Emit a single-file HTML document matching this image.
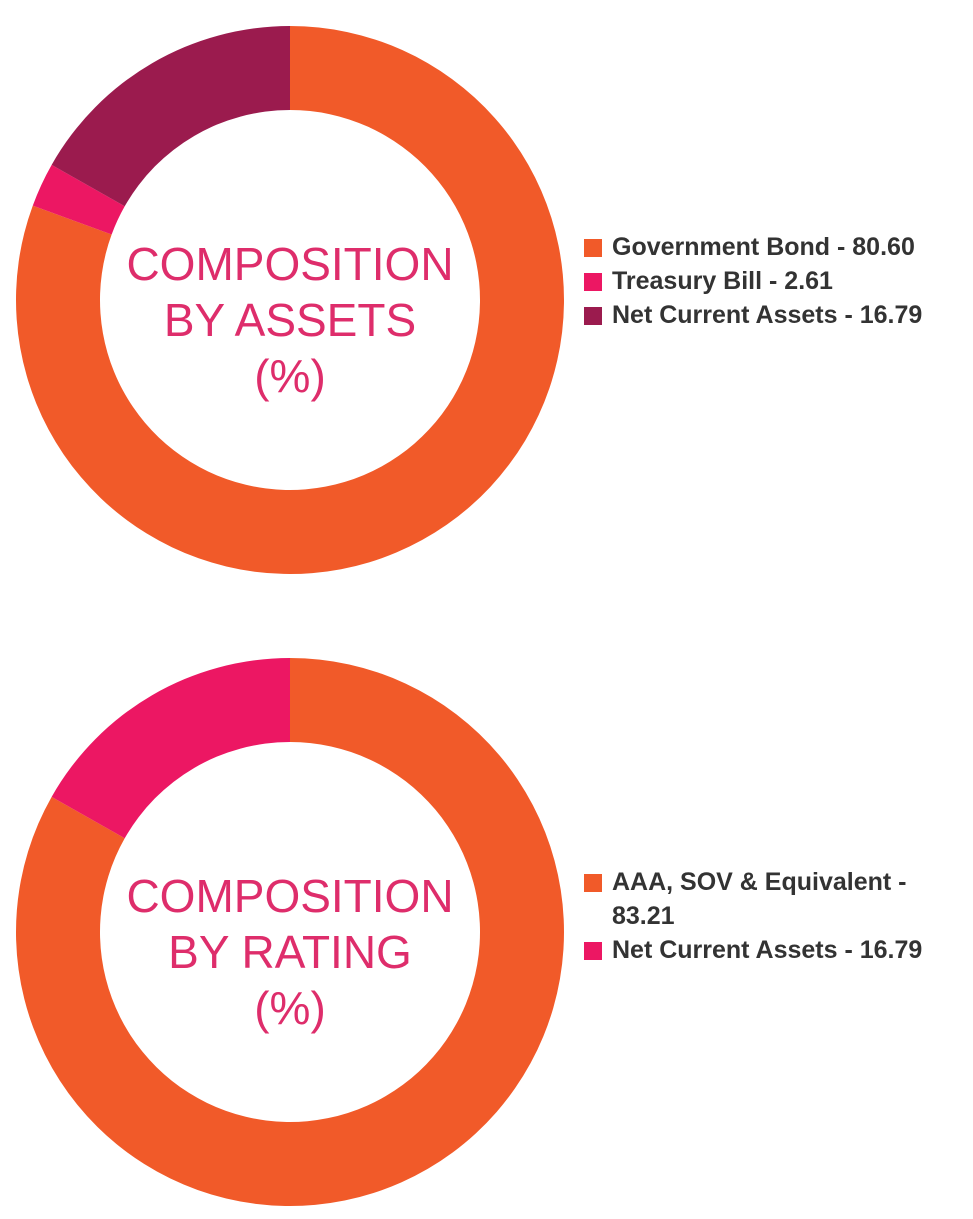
<!DOCTYPE html>
<html><head><meta charset="utf-8"><style>
body{margin:0;background:#fff;width:973px;height:1219px;overflow:hidden;font-family:"Liberation Sans",sans-serif}
.leg{position:absolute;left:584px;font-weight:bold;font-size:25px;color:#333;line-height:34px}
.leg div{position:relative;padding-left:28px}
.leg span.sw{position:absolute;left:0;top:9px;width:18px;height:18px}
</style></head><body>
<svg id="chart" width="973" height="1219" style="position:absolute;left:0;top:0"></svg>
<div class="leg" style="top:230px">
<div><span class="sw" style="background:#F15A29"></span>Government Bond - 80.60</div>
<div><span class="sw" style="background:#EC1763"></span>Treasury Bill - 2.61</div>
<div><span class="sw" style="background:#9B1B4E"></span>Net Current Assets - 16.79</div>
</div>
<div class="leg" style="top:865px">
<div><span class="sw" style="background:#F15A29"></span>AAA, SOV &amp; Equivalent -<br>83.21</div>
<div><span class="sw" style="background:#EC1763"></span>Net Current Assets - 16.79</div>
</div>
<script>
const assetLabels=["Government Bond","Treasury Bill","Net Current Assets"];
const assetValues=[80.60,2.61,16.79];
const ratingLabels=["AAA, SOV & Equivalent","Net Current Assets"];
const ratingValues=[83.21,16.79];
const assetColors=["#F15A29","#EC1763","#9B1B4E"];
const ratingColors=["#F15A29","#EC1763"];
const svg=document.getElementById('chart');
const NS="http://www.w3.org/2000/svg";
function donut(cx,cy,R,r,vals,cols,labels,title,name){
  const tot=vals.reduce((a,b)=>a+b,0);let a0=0;
  vals.forEach((v,i)=>{
    const a1=a0+v/tot*2*Math.PI;
    const p=(ang,rad)=>[cx+rad*Math.sin(ang),cy-rad*Math.cos(ang)];
    const [x0,y0]=p(a0,R),[x1,y1]=p(a1,R),[x2,y2]=p(a1,r),[x3,y3]=p(a0,r);
    const lg=(a1-a0)>Math.PI?1:0;
    const path=document.createElementNS(NS,'path');
    path.setAttribute('d',`M${x0},${y0}A${R},${R} 0 ${lg} 1 ${x1},${y1}L${x2},${y2}A${r},${r} 0 ${lg} 0 ${x3},${y3}Z`);
    path.setAttribute('fill',cols[i]);
    
    
    svg.appendChild(path);a0=a1;
  });
  title.forEach((t,k)=>{
    const tx=document.createElementNS(NS,'text');
    tx.setAttribute('x',cx);tx.setAttribute('y',cy-20+k*56);
    tx.setAttribute('text-anchor','middle');tx.setAttribute('font-size','46');
    tx.setAttribute('font-family','Liberation Sans, sans-serif');tx.setAttribute('fill','#DE2D6B');
    tx.textContent=t;
    
    
    svg.appendChild(tx);
  });
}
donut(290,300,274,190,assetValues,assetColors,assetLabels,["COMPOSITION","BY ASSETS","(%)"],'assets');
donut(290,932,274,190,ratingValues,ratingColors,ratingLabels,["COMPOSITION","BY RATING","(%)"],'rating');
</script>
</body></html>
